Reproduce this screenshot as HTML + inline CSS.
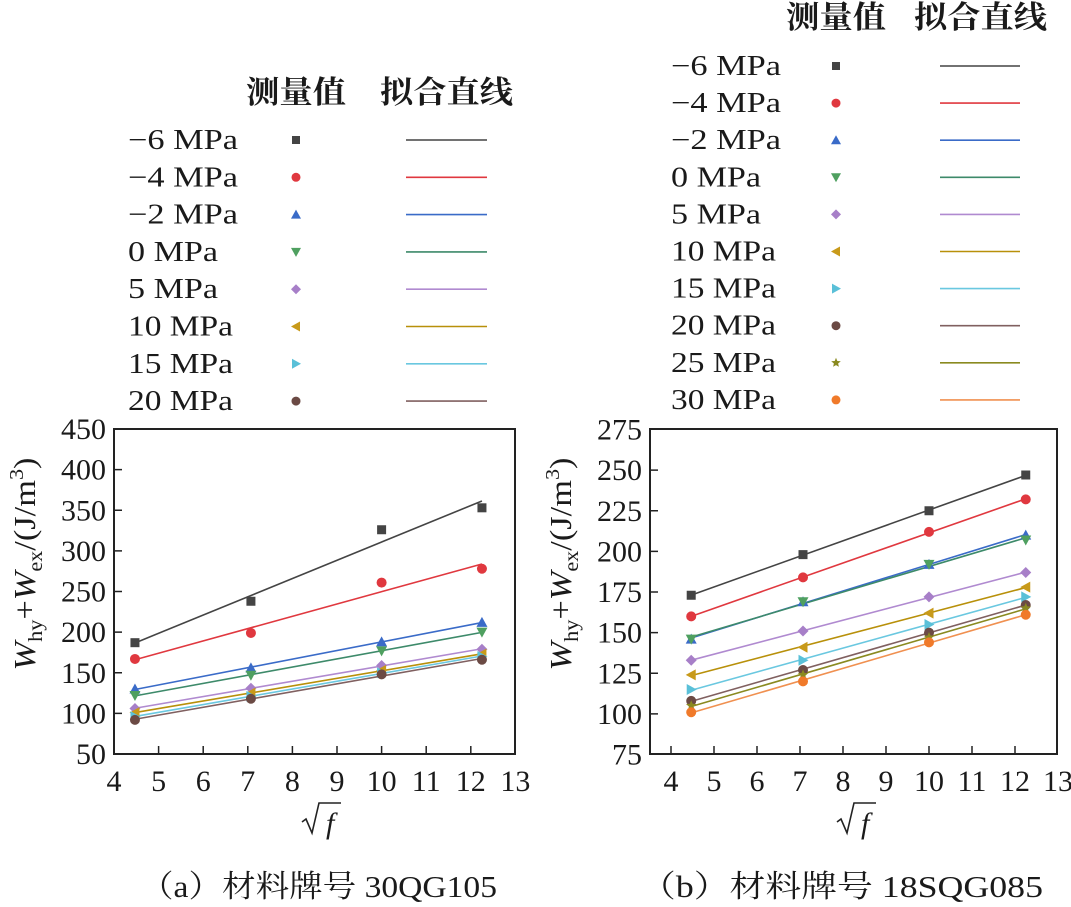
<!DOCTYPE html>
<html><head><meta charset="utf-8"><style>
body{margin:0;background:#fff}
svg{display:block}
text{font-family:"Liberation Serif","Noto Serif CJK SC",serif;fill:#1a1a1a}
</style></head><body>
<svg id="s" width="1071" height="907" xmlns="http://www.w3.org/2000/svg"></svg>
<script>
const S=document.getElementById('s');let h='';
const X=[4.47,7.07,10,12.25];
const cols=['#444','#e0383f','#3a6bc8','#4fa060','#a77fc8','#c89a1a','#5ac0d8','#6b4a44','#8a8a20','#f07a2a'];
const lcols=['#444','#e0383f','#3a6bc8','#3d8a6a','#b08ad0','#b8900a','#6ac8e0','#806060','#8a8a20','#f09050'];
const mk=['sq','ci','tu','td','di','tl','tr','ci','st','ci'];
const labs=['−6 MPa','−4 MPa','−2 MPa','0 MPa','5 MPa','10 MPa','15 MPa','20 MPa','25 MPa','30 MPa'];
const lw=[110,110,110,90,90,105,105,105,105,105];
function marker(t,x,y,c,r){r=r||5.5;
 if(t=='sq')return `<rect x="${x-r+1}" y="${y-r+1}" width="${2*r-2}" height="${2*r-2}" fill="${c}"/>`;
 if(t=='ci')return `<circle cx="${x}" cy="${y}" r="${r-0.5}" fill="${c}"/>`;
 if(t=='tu')return `<polygon points="${x},${y-r} ${x-r},${y+r-1} ${x+r},${y+r-1}" fill="${c}"/>`;
 if(t=='td')return `<polygon points="${x},${y+r} ${x-r},${y-r+1} ${x+r},${y-r+1}" fill="${c}"/>`;
 if(t=='di')return `<polygon points="${x},${y-r} ${x+r},${y} ${x},${y+r} ${x-r},${y}" fill="${c}"/>`;
 if(t=='tl')return `<polygon points="${x-r},${y} ${x+r-1},${y-r} ${x+r-1},${y+r}" fill="${c}"/>`;
 if(t=='tr')return `<polygon points="${x+r},${y} ${x-r+1},${y-r} ${x-r+1},${y+r}" fill="${c}"/>`;
 if(t=='st'){let p=[];for(let i=0;i<10;i++){let a=-Math.PI/2+i*Math.PI/5,rr=i%2?r*0.45:r;p.push((x+rr*Math.cos(a)).toFixed(1)+','+(y+rr*Math.sin(a)).toFixed(1));}return `<polygon points="${p.join(' ')}" fill="${c}"/>`;}
}
function fit(ys){let mx=X.reduce((a,b)=>a+b)/4,my=ys.reduce((a,b)=>a+b)/4,n=0,d=0;X.forEach((x,i)=>{n+=(x-mx)*(ys[i]-my);d+=(x-mx)**2});let b=n/d;return [my-b*mx,b];}
function plot(o){
 const px=x=>o.x0+(x-4)*o.kx, py=y=>o.yb-(y-o.ymin)*o.ky;
 h+=`<rect x="${o.L}" y="429" width="${o.R-o.L}" height="325" fill="none" stroke="#222" stroke-width="2"/>`;
 for(let i=4;i<=13;i++){let x=px(i);if(x>o.L+2&&x<o.R-2)h+=`<line x1="${x}" y1="754" x2="${x}" y2="746" stroke="#222" stroke-width="1.5"/>`;
  h+=`<text x="${x}" y="791" font-size="30" text-anchor="middle">${i}</text>`;}
 for(let v=o.ymin;v<=o.ymax;v+=o.ys){let y=py(v);if(y>431&&y<752)h+=`<line x1="${o.L}" y1="${y}" x2="${o.L+8}" y2="${y}" stroke="#222" stroke-width="1.5"/>`;
  h+=`<text x="${o.L-8}" y="${y+10}" font-size="30" text-anchor="end">${v}</text>`;}
 o.data.forEach((ys,k)=>{let [a,b]=fit(ys);
  h+=`<line x1="${px(4.47)}" y1="${py(a+b*4.47)}" x2="${px(12.25)}" y2="${py(a+b*12.25)}" stroke="${lcols[k]}" stroke-width="1.6"/>`;});
 o.data.forEach((ys,k)=>{ys.forEach((v,i)=>h+=marker(mk[k],px(X[i]),py(v),cols[k]));});
 h+=`<text x="${o.mx-50}" y="${o.ty}" font-size="31" textLength="100" lengthAdjust="spacingAndGlyphs" font-weight="bold">测量值</text><text x="${o.l1-26}" y="${o.ty}" font-size="31" textLength="133" lengthAdjust="spacingAndGlyphs" font-weight="bold">拟合直线</text>`;
 o.data.forEach((ys,k)=>{let y=o.r0+k*o.dr;
  h+=`<text x="${o.lx}" y="${y+9}" font-size="28" textLength="${lw[k]}" lengthAdjust="spacingAndGlyphs">${labs[k]}</text>`+marker(mk[k],o.mx,y,cols[k],5)+`<line x1="${o.l1}" y1="${y}" x2="${o.l2}" y2="${y}" stroke="${lcols[k]}" stroke-width="1.6"/>`;});
 h+=`<text transform="translate(${o.yl},564) rotate(-90)" font-size="31" text-anchor="middle" textLength="213" lengthAdjust="spacingAndGlyphs"><tspan font-style="italic">W</tspan><tspan font-size="20" dy="7">hy</tspan><tspan dy="-7">+</tspan><tspan font-style="italic">W</tspan><tspan font-size="20" dy="7">ex</tspan><tspan dy="-7">/(J/m</tspan><tspan font-size="20" dy="-12">3</tspan><tspan dy="12">)</tspan></text>`;
 let cx=o.sx;
 h+=`<path d="M${cx-20} 822 l4 -3 l6 14 l7 -30 h22" fill="none" stroke="#222" stroke-width="1.6"/><text x="${cx+4}" y="833" font-size="30" font-style="italic">f</text>`;
 h+=`<text x="${o.cap}" y="897" font-size="31" textLength="${o.capw}" lengthAdjust="spacingAndGlyphs">${o.capt}</text>`;
}
plot({L:114,R:515,x0:114,kx:44.6,yb:754,ymin:50,ymax:450,ys:50,ky:325/400,
 data:[[187,238,326,353],[167,199,261,278],[130,156,188,212],[122,147,177,200],[106,131,159,179],[101,125,153,173],[96,121,150,170],[92,118,148,166]],
 mx:296,l1:406,l2:487,lx:128,ty:103,r0:140,dr:37.3,yl:35,sx:322,cap:140,capw:357,capt:'（a）材料牌号 30QG105'});
plot({L:650,R:1057,x0:671,kx:43,yb:754.5,ymin:75,ymax:275,ys:25,ky:325/200,
 data:[[173,198,225,247],[160,184,212,232],[146,169,192,210],[146,169,192,207],[133,151,172,187],[124,141,162,178],[115,133,155,172],[108,127,150,167],[105,124,147,165],[101,120,144,161]],
 mx:836,l1:940,l2:1020,lx:671,ty:28,r0:66,dr:37.1,yl:571,sx:857,cap:640,capw:403,capt:'（b）材料牌号 18SQG085'});
S.innerHTML=h;
</script>
</body></html>
